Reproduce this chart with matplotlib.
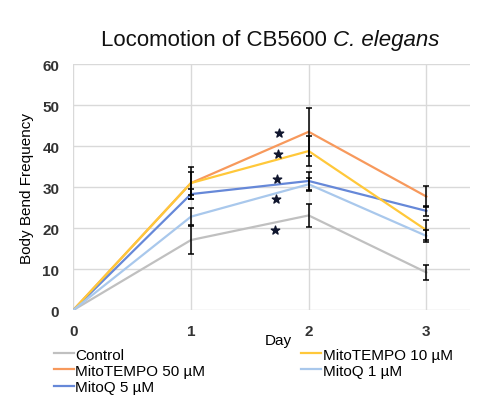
import numpy as np
import matplotlib.pyplot as plt

days = [0, 1, 2, 3]

control = [0, 17.1, 23.1, 9.2]
mitotempo_10 = [0, 31.0, 38.8, 19.5]
mitotempo_50 = [0, 31.0, 43.5, 27.7]
mitoq_1 = [0, 22.8, 30.7, 18.1]
mitoq_5 = [0, 28.3, 31.5, 24.2]

control_err = [0, 3.3, 2.9, 1.9]
mitotempo_10_err = [0, 2.8, 3.6, 2.5]
mitotempo_50_err = [0, 4.0, 5.8, 2.5]
mitoq_1_err = [0, 2.0, 1.6, 1.5]
mitoq_5_err = [0, 1.2, 2.2, 1.2]

# significance stars near day 2
star_x = [1.75, 1.74, 1.73, 1.72, 1.71]
star_y = [43.2, 38.2, 32.1, 27.1, 19.6]

series = [
    ("Control", control, control_err, "#c0c0c0"),
    ("MitoTEMPO 50 µM", mitotempo_50, mitotempo_50_err, "#f7995c"),
    ("MitoQ 5 µM", mitoq_5, mitoq_5_err, "#6688d8"),
    ("MitoTEMPO 10 µM", mitotempo_10, mitotempo_10_err, "#ffc83a"),
    ("MitoQ 1 µM", mitoq_1, mitoq_1_err, "#a9c8ec"),
]

plt.rcParams['font.family'] = ['Liberation Sans', 'DejaVu Sans']

fig = plt.figure(figsize=(4.85, 4.02), dpi=100)
ax = fig.add_axes([0.151, 0.226, 0.818, 0.612])

for name, vals, err, col in series:
    ax.plot(days, vals, color=col, lw=1.6, label=name, zorder=3)

for name, vals, err, col in series:
    ax.errorbar(days[1:], vals[1:], yerr=err[1:], fmt='none', ecolor='black',
                elinewidth=1.1, capsize=2.5, capthick=1.1, zorder=4)

ax.scatter(star_x, star_y, marker='*', s=40, color='#10162e', zorder=5)

ax.set_xlim(0, 3.37)
ax.set_ylim(0, 60)
ax.set_xticks(days)
ax.set_yticks(range(0, 61, 10))
ax.grid(True, color='#d9d9d9', lw=1)
ax.set_axisbelow(True)
for s in ax.spines.values():
    s.set_visible(False)
ax.tick_params(length=0, labelsize=11, pad=10)
for lbl in ax.get_yticklabels() + ax.get_xticklabels():
    lbl.set_fontweight('bold')
    lbl.set_color('#333333')

ax.set_ylabel("Body Bend Frequency", fontsize=11, labelpad=6)
fig.text(0.573, 0.152, "Day", fontsize=11, ha='center', va='center')

# title: normal part + italic species name
fig.text(0.673, 0.9, "Locomotion of CB5600", fontsize=16,
         ha='right', va='center', color='#111111')
fig.text(0.687, 0.9, "C. elegans", fontsize=16, style='italic',
         ha='left', va='center', color='#111111')

fig.legend(loc='upper left', bbox_to_anchor=(0.095, 0.152), ncol=2,
           frameon=False, fontsize=11, handlelength=1.3, handletextpad=0.1,
           labelspacing=0.15, columnspacing=6.3, borderpad=0)

fig.savefig("out.png", dpi=100)
